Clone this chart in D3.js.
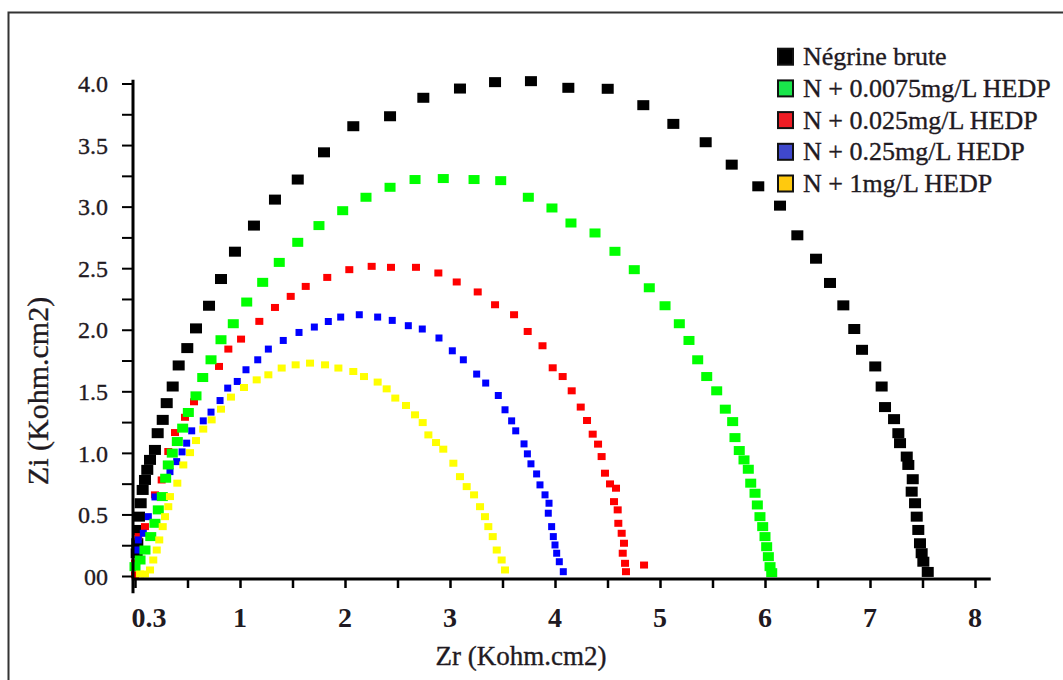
<!DOCTYPE html>
<html><head><meta charset="utf-8">
<script src="https://cdn.jsdelivr.net/npm/d3@7"></script>
<style>body{margin:0;background:#fff}svg{display:block}</style>
</head><body>
<svg id="c" width="1063" height="680"></svg>
<script>
// ---- data (Zr, Zi) in Kohm.cm2 ----
const seriesNames = ["Négrine brute","N + 0.0075mg/L HEDP","N + 0.025mg/L HEDP","N + 0.25mg/L HEDP","N + 1mg/L HEDP"];
const brute = [[0.016,0.185],[0.022,0.266],[0.031,0.374],[0.038,0.482],[0.054,0.591],[0.073,0.699],[0.095,0.780],[0.117,0.862],[0.143,0.943],[0.19,1.024],[0.216,1.160],[0.264,1.268],[0.302,1.404],[0.359,1.539],[0.416,1.710],[0.498,1.851],[0.581,2.011],[0.705,2.195],[0.819,2.412],[0.952,2.634],[1.133,2.846],[1.333,3.057],[1.550,3.220],[1.800,3.441],[2.079,3.653],[2.429,3.734],[2.746,3.884],[3.095,3.959],[3.429,4.011],[3.771,4.019],[4.127,3.965],[4.502,3.957],[4.841,3.824],[5.127,3.672],[5.435,3.523],[5.683,3.341],[5.936,3.165],[6.143,3.008],[6.308,2.767],[6.486,2.577],[6.619,2.380],[6.746,2.198],[6.850,2.006],[6.924,1.837],[7.050,1.702],[7.111,1.539],[7.143,1.372],[7.229,1.274],[7.270,1.160],[7.286,1.079],[7.350,0.970],[7.365,0.902],[7.407,0.786],[7.397,0.685],[7.429,0.591],[7.445,0.482],[7.460,0.374],[7.476,0.266],[7.492,0.185],[7.508,0.116],[7.550,0.033]];
const hedp0075 = [[0.0,0.076],[0.048,0.130],[0.095,0.211],[0.150,0.320],[0.190,0.428],[0.222,0.537],[0.260,0.645],[0.292,0.794],[0.317,0.902],[0.355,0.998],[0.403,1.092],[0.454,1.201],[0.508,1.328],[0.581,1.463],[0.645,1.612],[0.724,1.756],[0.819,1.919],[0.936,2.049],[1.064,2.225],[1.216,2.385],[1.374,2.547],[1.550,2.710],[1.752,2.846],[1.978,2.967],[2.200,3.076],[2.429,3.157],[2.667,3.220],[2.936,3.228],[3.229,3.220],[3.483,3.211],[3.746,3.076],[3.971,2.989],[4.152,2.867],[4.381,2.786],[4.571,2.637],[4.755,2.488],[4.898,2.341],[5.048,2.195],[5.184,2.049],[5.276,1.913],[5.359,1.756],[5.445,1.620],[5.540,1.504],[5.622,1.355],[5.692,1.254],[5.714,1.124],[5.755,1.019],[5.800,0.943],[5.841,0.867],[5.864,0.754],[5.905,0.672],[5.927,0.577],[5.952,0.482],[5.978,0.401],[6.000,0.320],[6.016,0.238],[6.032,0.157],[6.048,0.076],[6.064,0.027]];
const hedp025 = [[0.0,0.01],[0.0,0.106],[0.031,0.320],[0.095,0.401],[0.190,0.659],[0.254,0.780],[0.317,1.011],[0.381,1.165],[0.476,1.289],[0.562,1.415],[0.800,1.702],[0.889,1.843],[1.010,1.924],[1.184,2.068],[1.333,2.181],[1.483,2.271],[1.626,2.352],[1.831,2.425],[2.041,2.488],[2.254,2.515],[2.438,2.507],[2.676,2.507],[2.889,2.461],[3.064,2.388],[3.264,2.307],[3.429,2.203],[3.610,2.122],[3.740,1.986],[3.881,1.870],[3.978,1.691],[4.073,1.620],[4.159,1.504],[4.245,1.372],[4.305,1.263],[4.359,1.152],[4.410,1.071],[4.444,0.970],[4.476,0.835],[4.524,0.748],[4.581,0.713],[4.562,0.604],[4.597,0.537],[4.603,0.428],[4.635,0.347],[4.657,0.266],[4.645,0.185],[4.667,0.103],[4.676,0.035],[4.848,0.089]];
const hedp25 = [[0.016,0.211],[0.031,0.293],[0.079,0.347],[0.127,0.482],[0.190,0.642],[0.333,0.848],[0.397,0.929],[0.448,1.008],[0.492,1.079],[0.540,1.179],[0.650,1.260],[0.724,1.331],[0.810,1.425],[0.883,1.526],[0.974,1.580],[1.057,1.675],[1.169,1.756],[1.270,1.843],[1.412,1.913],[1.562,1.978],[1.708,2.022],[1.841,2.067],[1.959,2.103],[2.136,2.122],[2.311,2.103],[2.450,2.076],[2.603,2.033],[2.736,2.006],[2.895,1.933],[3.022,1.829],[3.127,1.756],[3.254,1.640],[3.340,1.567],[3.460,1.466],[3.524,1.350],[3.587,1.260],[3.626,1.179],[3.705,1.073],[3.737,0.992],[3.771,0.911],[3.825,0.829],[3.857,0.740],[3.905,0.659],[3.943,0.591],[3.936,0.510],[3.968,0.401],[3.984,0.320],[4.000,0.252],[4.016,0.185],[4.041,0.116],[4.079,0.035]];
const hedp1 = [[0.048,0.016],[0.095,0.016],[0.143,0.049],[0.174,0.130],[0.207,0.211],[0.231,0.293],[0.264,0.401],[0.286,0.482],[0.317,0.563],[0.333,0.645],[0.403,0.754],[0.460,0.902],[0.524,1.002],[0.581,1.100],[0.650,1.193],[0.730,1.268],[0.819,1.355],[0.914,1.453],[1.038,1.531],[1.159,1.593],[1.270,1.634],[1.397,1.689],[1.530,1.715],[1.667,1.729],[1.810,1.715],[1.937,1.689],[2.079,1.661],[2.181,1.620],[2.311,1.575],[2.397,1.520],[2.479,1.445],[2.581,1.385],[2.667,1.309],[2.740,1.246],[2.794,1.146],[2.867,1.084],[2.936,1.030],[3.032,0.916],[3.095,0.807],[3.159,0.726],[3.229,0.659],[3.286,0.563],[3.333,0.482],[3.365,0.401],[3.407,0.320],[3.445,0.211],[3.492,0.130],[3.524,0.049]];
const xTickValues = [0,1,2,3,4,5,6,7,8];
const xTickLabels = ["0.3","1","2","3","4","5","6","7","8"];
const yTickValues = [0,0.5,1,1.5,2,2.5,3,3.5,4];
const yTickLabels = ["00","0.5","1.0","1.5","2.0","2.5","3.0","3.5","4.0"];

// ---- styling ----
const markerColors = ["#000000","#00ff00","#ff0000","#0000ff","#ffff00"];
const legendColors = ["#000000","#19e64b","#ee1c24","#3f48cc","#ffc90e"];
const markerSizes = [[12,10],[11,9],[8,7],[7,7],[8,7]];
const serif = "Times New Roman, Liberation Serif, Tinos, DejaVu Serif, serif";
const textCol = "#1f1a22";

const svg = d3.select("#c");
svg.append("rect").attr("width",1063).attr("height",680).attr("fill","#fff");
svg.append("rect").attr("x",8.5).attr("y",12.5).attr("width",1100).attr("height",700)
  .attr("fill","none").attr("stroke","#333").attr("stroke-width",2);

const x = d3.scaleLinear().domain([0,8]).range([135,975]);
const y = d3.scaleLinear().domain([0,4]).range([576,83.5]);

const allSeries = [brute, hedp0075, hedp025, hedp25, hedp1];
const order = [0,2,3,1,4];
order.forEach(i => {
  const [w,h] = markerSizes[i];
  svg.append("g").selectAll("rect").data(allSeries[i]).join("rect")
    .attr("x", d => x(d[0]) - w/2).attr("y", d => y(d[1]) - h/2)
    .attr("width", w).attr("height", h).attr("fill", markerColors[i]);
});

function heavy(sel){ return sel.attr("fill",textCol).attr("stroke",textCol).attr("stroke-width",0.35); }

// y axis
const yAxisX = 133;
const yMinor = d3.range(0, 4.01, 0.25);
const ya = svg.append("g").attr("transform",`translate(${yAxisX},0)`)
  .call(d3.axisLeft(y).tickValues(yMinor).tickSize(11).tickFormat(""));
ya.select(".domain").remove();
ya.selectAll(".tick line").attr("stroke","#000").attr("stroke-width",2);
svg.append("line").attr("x1",yAxisX).attr("x2",yAxisX).attr("y1",y(4.03)).attr("y2",y(-0.14))
  .attr("stroke","#000").attr("stroke-width",3);
heavy(svg.append("g").selectAll("text").data(yTickValues).join("text")
  .attr("x",108).attr("y",d=>y(d)).attr("dy","0.36em").attr("text-anchor","end")
  .style("font-family",serif).attr("font-size",24))
  .text((d,i)=>yTickLabels[i]);

// x axis
const xAxisY = 579;
const xMinor = d3.range(0, 8.01, 0.5);
const xa = svg.append("g").attr("transform",`translate(0,${xAxisY})`)
  .call(d3.axisBottom(x).tickValues(xMinor).tickSize(9).tickFormat(""));
xa.select(".domain").remove();
xa.selectAll(".tick line").attr("stroke","#000").attr("stroke-width",2.5);
svg.append("line").attr("x1",x(-0.03)).attr("x2",x(8.15)).attr("y1",xAxisY).attr("y2",xAxisY)
  .attr("stroke","#000").attr("stroke-width",3);
svg.append("g").selectAll("text").data(xTickValues).join("text")
  .attr("x",(d,i)=> x(d) + (i===0 ? 14 : 0)).attr("y",627).attr("text-anchor","middle")
  .style("font-family",serif).attr("font-size",28).attr("font-weight","bold").attr("fill",textCol)
  .text((d,i)=>xTickLabels[i]);

// axis titles
heavy(svg.append("text").attr("x",521).attr("y",665).attr("text-anchor","middle")
  .style("font-family",serif).attr("font-size",27)).text("Zr (Kohm.cm2)");
heavy(svg.append("text").attr("transform","translate(48,391) rotate(-90)").attr("text-anchor","middle")
  .style("font-family",serif).attr("font-size",30)).text("Zi (Kohm.cm2)");

// legend
const lg = svg.append("g");
seriesNames.forEach((name,i)=>{
  const cy = 56.7 + i*31.7;
  lg.append("rect").attr("x",778).attr("y",cy-8).attr("width",15).attr("height",16)
    .attr("fill",legendColors[i]).attr("stroke","#111").attr("stroke-width",2);
  heavy(lg.append("text").attr("x",803).attr("y",cy+8.5)
    .style("font-family",serif).attr("font-size",26)).text(name);
});
</script>
</body></html>
